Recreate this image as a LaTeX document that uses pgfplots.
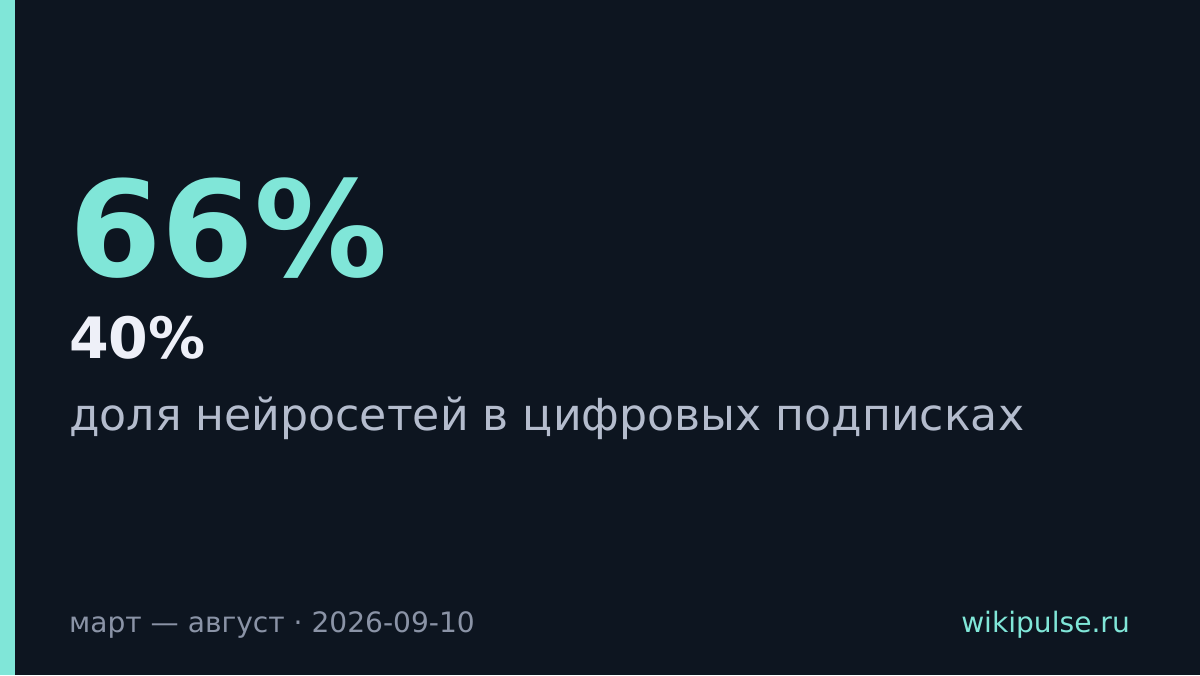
\documentclass[border=0pt]{standalone}
\usepackage{pgfplots}
\pgfplotsset{compat=1.18}
\usepackage{fontspec}
\setmainfont{DejaVu Sans}
\definecolor{bg}{HTML}{0D1520}
\definecolor{accent}{HTML}{80E6D8}
\definecolor{bignum}{HTML}{EEF0F8}
\definecolor{subtxt}{HTML}{B4BCCD}
\definecolor{foot}{HTML}{8A93A6}
\begin{document}
\begin{tikzpicture}
\begin{axis}[
  width=1200bp, height=675bp, scale only axis,
  xmin=0, xmax=1200, ymin=0, ymax=675,
  hide axis, clip=false,
]
\addplot[fill=bg, draw=none] coordinates {(0,0) (1200,0) (1200,675) (0,675)} -- cycle;
\addplot[fill=accent, draw=none] coordinates {(0,0) (15,0) (15,675) (0,675)} -- cycle;
\node[anchor=base west, inner sep=0, text=accent] at (axis cs:69,398)
  {\fontsize{133bp}{133bp}\selectfont\bfseries 66\%};
\node[anchor=base west, inner sep=0, text=bignum] at (axis cs:69,316)
  {\fontsize{57bp}{57bp}\selectfont\bfseries 40\%};
\node[anchor=base west, inner sep=0, text=subtxt] at (axis cs:69,244)
  {\fontsize{44.2bp}{44.2bp}\selectfont доля нейросетей в цифровых подписках};
\node[anchor=base west, inner sep=0, text=foot] at (axis cs:69,43)
  {\fontsize{28.1bp}{28.1bp}\selectfont март — август · 2026-09-10};
\node[anchor=base east, inner sep=0, text=accent] at (axis cs:1130,43)
  {\fontsize{28.1bp}{28.1bp}\selectfont wikipulse.ru};
\end{axis}
\end{tikzpicture}
\end{document}
